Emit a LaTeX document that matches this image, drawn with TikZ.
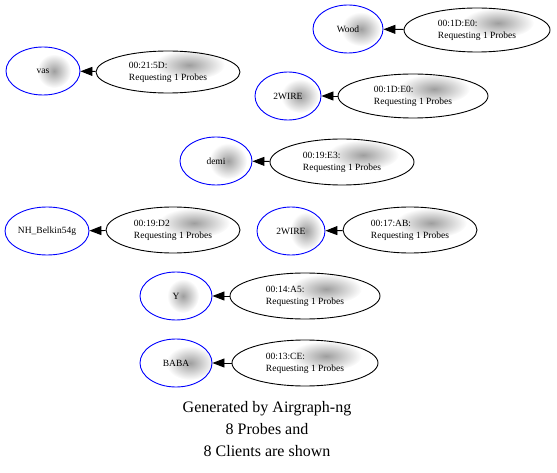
\documentclass[tikz,border=0pt]{standalone}
\usepackage{fontspec}
\setmainfont{Liberation Serif}
\usetikzlibrary{shapes.geometric,arrows.meta}
\newcommand\blurblob[3]{\shade[inner color=black!38,outer color=white] #1 ellipse (#2 and #3);}
\begin{document}
\begin{tikzpicture}[x=1pt,y=-1pt,
 probe/.style={ellipse,draw=blue,line width=0.9pt,inner sep=0pt,font=\fontsize{9.5}{12}\selectfont},
 client/.style={ellipse,draw=black,line width=0.9pt,inner sep=0pt,align=left,font=\fontsize{9.5}{12}\selectfont},
 arr/.style={line width=0.9pt,-{Triangle[length=12pt,width=9pt]}},
 caption/.style={font=\fontsize{16}{22}\selectfont,align=center}]
\useasboundingbox (0,0) rectangle (557,473);
% blurred (hidden) parts
\blurblob{(54,71)}{17}{17}
\blurblob{(361,29)}{20}{17}
\blurblob{(300,96)}{19}{17}
\blurblob{(228,161)}{19}{18}
\blurblob{(306,231)}{16}{19}
\blurblob{(183,296)}{16}{17}
\blurblob{(190,363)}{24}{17}
\foreach \cx/\cy in {168/72,477/30,413/96,342/162,173/230,410/230,305/296,305/363}
  {\blurblob{(\cx+21,\cy-7)}{36}{15}}
% probes
\node[probe,minimum width=74pt,minimum height=48pt] (p1) at (43,71) {vas\hspace{12pt}};
\node[probe,minimum width=70pt,minimum height=48pt] (p2) at (348,29) {Wood\hspace{20pt}};
\node[probe,minimum width=66pt,minimum height=48pt] (p3) at (288,96) {2WIRE\hspace{18pt}};
\node[probe,minimum width=72pt,minimum height=48pt] (p4) at (216,161) {demi\hspace{18pt}};
\node[probe,minimum width=84pt,minimum height=48pt] (p5) at (47,231) {NH\_Belkin54g};
\node[probe,minimum width=68pt,minimum height=48pt] (p6) at (291,231) {2WIRE\hspace{14pt}};
\node[probe,minimum width=72pt,minimum height=48pt] (p7) at (176,296) {Y\hspace{14pt}};
\node[probe,minimum width=72pt,minimum height=48pt] (p8) at (176,363) {BABA\hspace{24pt}};
% clients
\node[client,minimum width=144pt,minimum height=42pt] (c1) at (168,72) {00:21:5D:\\Requesting 1 Probes};
\node[client,minimum width=146pt,minimum height=44pt] (c2) at (477,30) {00:1D:E0:\\Requesting 1 Probes};
\node[client,minimum width=150pt,minimum height=44pt] (c3) at (413,96) {00:1D:E0:\\Requesting 1 Probes};
\node[client,minimum width=144pt,minimum height=46pt] (c4) at (342,162) {00:19:E3:\\Requesting 1 Probes};
\node[client,minimum width=134pt,minimum height=46pt] (c5) at (173,230) {00:19:D2\\Requesting 1 Probes};
\node[client,minimum width=134pt,minimum height=46pt] (c6) at (410,230) {00:17:AB:\\Requesting 1 Probes};
\node[client,minimum width=150pt,minimum height=46pt] (c7) at (305,296) {00:14:A5:\\Requesting 1 Probes};
\node[client,minimum width=146pt,minimum height=46pt] (c8) at (305,363) {00:13:CE:\\Requesting 1 Probes};
% edges
\foreach \i in {1,...,8} {\draw[arr] (c\i) -- (p\i);}
% caption
\node[caption] (cap) at (267,429) {Generated by Airgraph-ng\\8 Probes and\\8 Clients are shown};
\end{tikzpicture}
\end{document}
